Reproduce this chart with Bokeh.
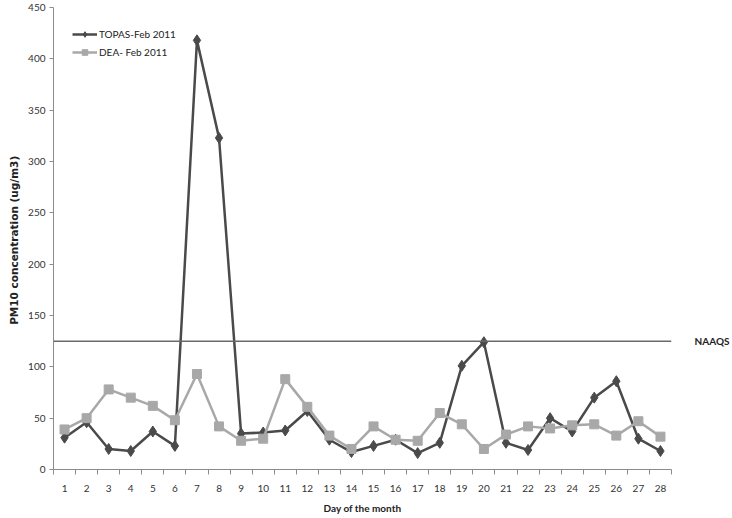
from bokeh.plotting import figure
from bokeh.models import Range1d, FixedTicker, Span, Legend, LegendItem, LinearAxis
from bokeh.embed import file_html
from bokeh.resources import INLINE

days = list(range(1, 29))
topas = [31, 46, 20, 18, 37, 23, 418, 323, 35, 36, 38, 57, 29, 17,
         23, 29, 16, 26, 101, 124, 26, 19, 50, 37, 70, 86, 30, 18]
dea = [39, 50, 78, 70, 62, 48, 93, 42, 28, 30, 88, 61, 33, 20,
       42, 29, 28, 55, 44, 20, 34, 42, 40, 43, 44, 33, 47, 32]
naaqs = 125
y_ticks = list(range(0, 451, 50))
series_names = ["TOPAS-Feb 2011", "DEA- Feb 2011"]
x_title = "Day of the month"
y_title = "PM10 concentration  (ug/m3)"
naaqs_label = "NAAQS"

FONT = "Lato"
dark = "#4a4a4a"
light = "#a8a8a8"
axis_col = "#8c8c8c"

p = figure(width=732, height=518, output_backend="svg", toolbar_location=None,
           x_range=Range1d(0.5, 28.5), y_range=Range1d(0, 450),
           min_border_left=53, min_border_right=58, min_border_top=7, min_border_bottom=49)
p.outline_line_color = None
p.xgrid.grid_line_color = None
p.ygrid.grid_line_color = None

# x axis
p.xaxis.ticker = FixedTicker(ticks=days, minor_ticks=[d - 0.5 for d in days] + [28.5])
p.xaxis.major_tick_out = 0
p.xaxis.major_tick_in = 0
p.xaxis.minor_tick_out = 5
p.xaxis.minor_tick_in = 0
p.xaxis.minor_tick_line_color = axis_col
p.xaxis.axis_line_color = axis_col
p.xaxis.major_label_standoff = 10
p.xaxis.major_label_text_font = FONT
p.xaxis.major_label_text_font_size = "10px"
p.xaxis.major_label_text_color = "#333333"
p.xaxis.axis_label = x_title
p.xaxis.axis_label_text_font = FONT
p.xaxis.axis_label_text_font_size = "10px"
p.xaxis.axis_label_text_font_style = "bold"
p.xaxis.axis_label_text_color = "#222222"
p.xaxis.axis_label_standoff = 7

# y axis
p.yaxis.ticker = FixedTicker(ticks=y_ticks)
p.yaxis.major_tick_out = 4
p.yaxis.major_tick_in = 0
p.yaxis.minor_tick_line_color = None
p.yaxis.major_tick_line_color = axis_col
p.yaxis.axis_line_color = axis_col
p.yaxis.major_label_standoff = 4
p.yaxis.major_label_text_font = FONT
p.yaxis.major_label_text_font_size = "10px"
p.yaxis.major_label_text_color = "#333333"
p.yaxis.axis_label = y_title
p.yaxis.axis_label_text_font = "DejaVu Sans"
p.yaxis.axis_label_text_font_size = "10.5px"
p.yaxis.axis_label_text_font_style = "bold"
p.yaxis.axis_label_text_color = "#222222"
p.yaxis.axis_label_standoff = 5

# NAAQS line and its label on a bare right axis
p.add_layout(Span(location=naaqs, dimension="width", line_color="#6a6a6a", line_width=1.5))
raxis = LinearAxis(ticker=FixedTicker(ticks=[naaqs]),
                   major_label_overrides={naaqs: naaqs_label},
                   axis_line_color=None, major_tick_line_color=None,
                   minor_tick_line_color=None, major_tick_out=0, major_tick_in=0,
                   major_label_standoff=23, major_label_text_font=FONT,
                   major_label_text_font_size="10px", major_label_text_font_style="bold",
                   major_label_text_color="#222222")
p.add_layout(raxis, "right")

l1 = p.line(days, topas, line_color=dark, line_width=2.5)
s1 = p.scatter(days, topas, marker="diamond", size=11, fill_color=dark, line_color=dark)
l2 = p.line(days, dea, line_color=light, line_width=2.5)
s2 = p.scatter(days, dea, marker="square", size=9, fill_color=light, line_color=light)

legend = Legend(items=[LegendItem(label=series_names[0], renderers=[l1, s1]),
                       LegendItem(label=series_names[1], renderers=[l2, s2])],
                location=(19, 410), padding=4, spacing=4,
                glyph_width=25, glyph_height=14, label_standoff=2,
                label_text_font=FONT, label_text_font_size="10px",
                label_text_color="#222222",
                border_line_color=None, background_fill_alpha=0)
p.add_layout(legend)

open("out.html", "w").write(file_html(p, INLINE))
